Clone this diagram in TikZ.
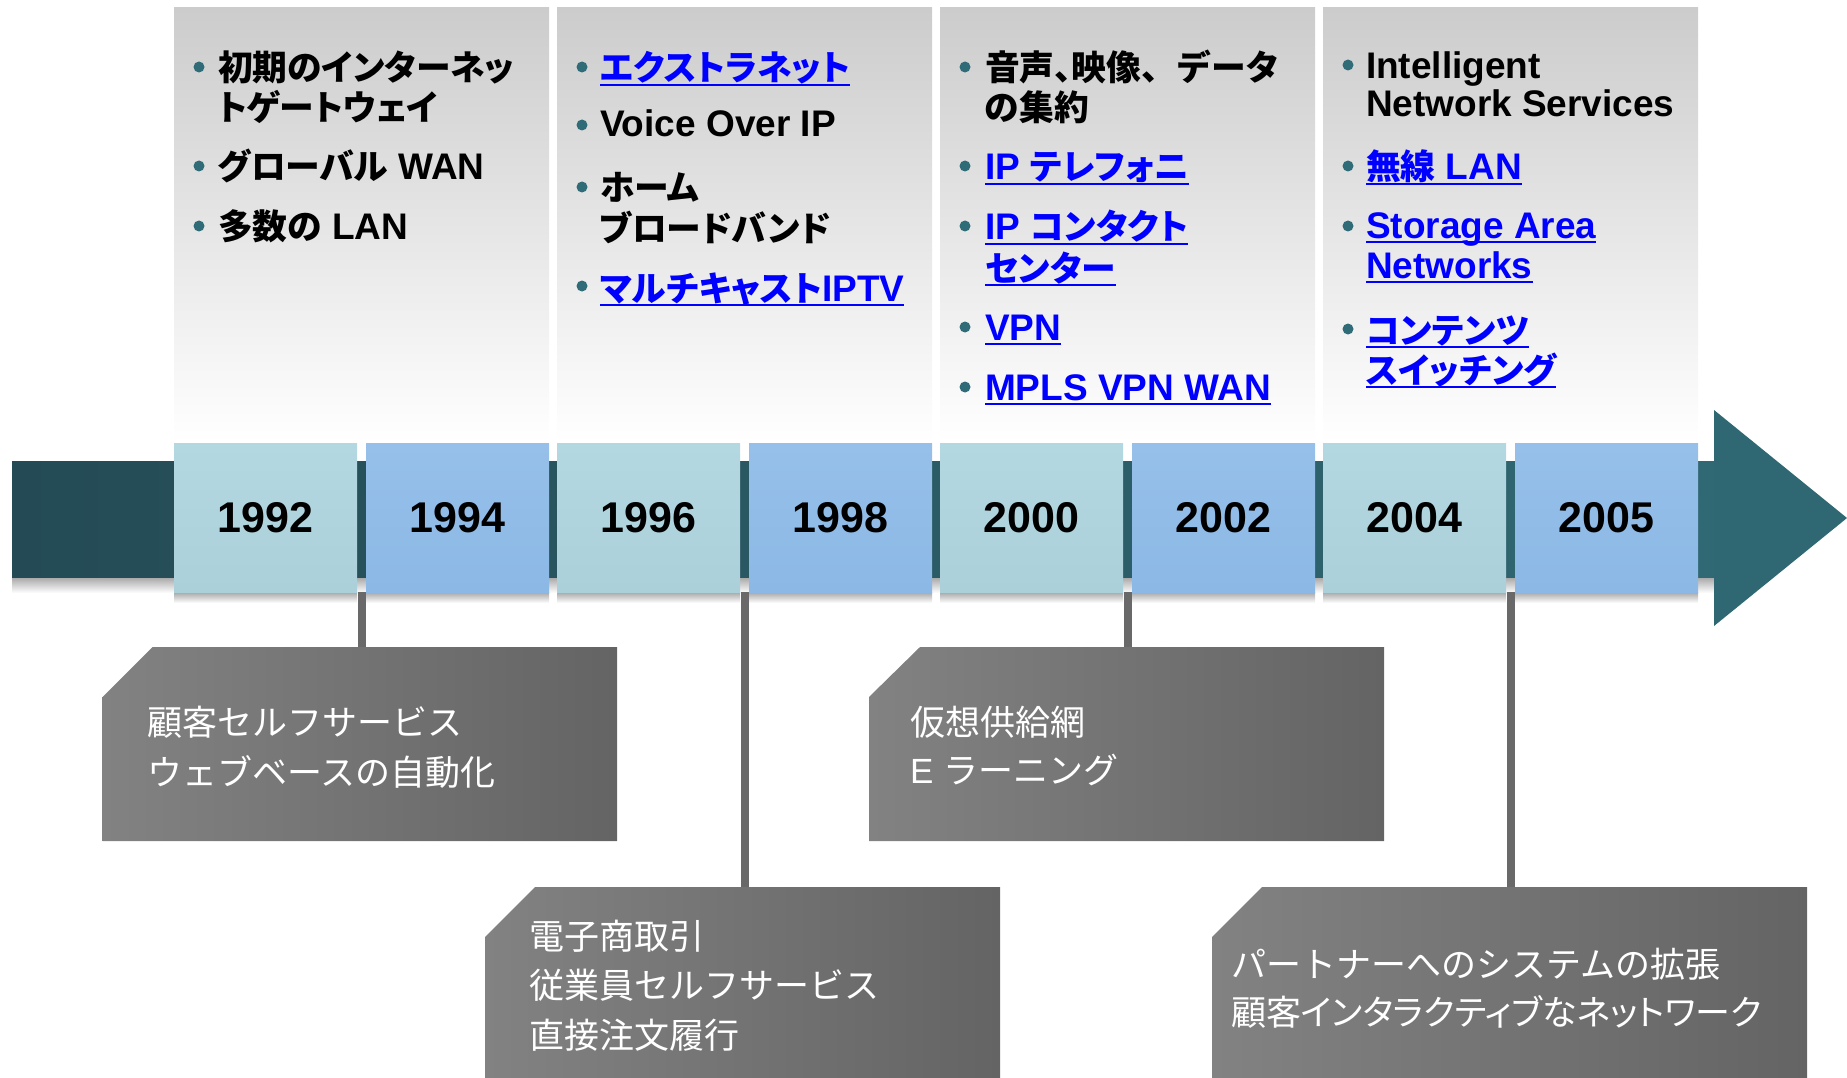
\documentclass[tikz,border=0pt]{standalone}
\usepackage{fontspec}
\setmainfont{Liberation Sans}
\newfontfamily\jpp[RawFeature=+palt]{Noto Sans CJK JP}
\newfontfamily\jp{Noto Sans CJK JP}
\newfontfamily\jpt[RawFeature=+palt,Scale=0.94]{Noto Sans CJK JP}
\newfontfamily\jpn[Scale=0.94]{Noto Sans CJK JP}
\usetikzlibrary{calc}
\definecolor{barL}{RGB}{36,75,85}
\definecolor{barR}{RGB}{48,104,115}
\definecolor{headC}{RGB}{47,103,114}
\definecolor{cyanT}{RGB}{180,216,225}
\definecolor{cyanB}{RGB}{172,208,218}
\definecolor{blueT}{RGB}{150,192,233}
\definecolor{blueB}{RGB}{140,184,230}
\definecolor{panT}{RGB}{204,204,204}
\definecolor{boxL}{RGB}{130,130,130}
\definecolor{boxR}{RGB}{100,100,100}
\definecolor{connC}{RGB}{105,105,105}
\definecolor{dotC}{RGB}{48,108,120}
\definecolor{linkC}{RGB}{0,0,255}
\newcommand\toptxt{\fontsize{37}{40}\selectfont\bfseries}
\newcommand\yrtxt{\fontsize{43}{46}\selectfont\bfseries}
\newcommand\bottxt{\fontsize{35}{38}\selectfont}
\tikzset{
  panel/.style={inner sep=0, outer sep=0, minimum width=375pt, minimum height=435pt, top color=panT, bottom color=white},
  yrA/.style={inner sep=0, outer sep=0, minimum width=183pt, minimum height=149pt, top color=cyanT, bottom color=cyanB, font=\yrtxt},
  yrB/.style={inner sep=0, outer sep=0, minimum width=183pt, minimum height=149pt, top color=blueT, bottom color=blueB, font=\yrtxt},
  ysh/.style={top color=black!35, bottom color=white},
  tx/.style={anchor=base west, inner sep=0, outer sep=0, font=\toptxt, text=black},
  lk/.style={tx, text=linkC},
  ul/.style={draw=linkC, line width=2.5pt},
  dot/.style={circle, fill=dotC, inner sep=0, minimum size=11pt},
  conn/.style={draw=connC, line width=8pt},
  bx/.style={left color=boxL, right color=boxR},
  bt/.style={anchor=base west, inner sep=0, outer sep=0, font=\bottxt, text=white}
}
\begin{document}
\begin{tikzpicture}[x=1pt,y=-1pt]
\useasboundingbox (0,0) rectangle (1847,1078);
% top panels
\node[panel] (p1) at (361.5,225.5) {};
\node[panel] (p2) at (744.5,225.5) {};
\node[panel] (p3) at (1127.5,225.5) {};
\node[panel] (p4) at (1510.5,225.5) {};
% bar and shadow
\shade[ysh] (12,577) rectangle (1714,593);
\shade[left color=barL, right color=barR] (12,461) rectangle (1714,577);
\fill[headC] (1714,410) -- (1847,518) -- (1714,626) -- cycle;
% year box shadows
\foreach \x in {174,366,557,749,940,1132,1323,1515}{
  \shade[ysh] (\x,592) rectangle ++(183,11);
}
% year boxes
\node[yrA] (y92) at (265.5,517.5) {1992};
\node[yrB] (y94) at (457.5,517.5) {1994};
\node[yrA] (y96) at (648.5,517.5) {1996};
\node[yrB] (y98) at (840.5,517.5) {1998};
\node[yrA] (y00) at (1031.5,517.5) {2000};
\node[yrB] (y02) at (1223.5,517.5) {2002};
\node[yrA] (y04) at (1414.5,517.5) {2004};
\node[yrB] (y05) at (1606.5,517.5) {2005};
% bottom box tops
\coordinate (tA) at (361.5,647);
\coordinate (tB) at (744.5,887);
\coordinate (tC) at (1127.5,647);
\coordinate (tD) at (1510.5,887);
% connectors
\draw[conn] ($(y92.south east)!.5!(y94.south west)$) -- (tA);
\draw[conn] ($(y96.south east)!.5!(y98.south west)$) -- (tB);
\draw[conn] ($(y00.south east)!.5!(y02.south west)$) -- (tC);
\draw[conn] ($(y04.south east)!.5!(y05.south west)$) -- (tD);
% bottom boxes
\shade[bx] (102.5,697) -- (152.5,647) -- (617,647) -- (617,841) -- (102.5,841) -- cycle;
\shade[bx] (485,937) -- (535,887) -- (1000,887) -- (1000,1078) -- (485,1078) -- cycle;
\shade[bx] (869,697) -- (920,647) -- (1384,647) -- (1384,841) -- (869,841) -- cycle;
\shade[bx] (1212,937) -- (1262,887) -- (1807,887) -- (1807,1078) -- (1212,1078) -- cycle;
\node[bt] (bA1) at (147,735) {\jp 顧客セルフサービス};
\node[bt] (bA2) at (147,785) {\jp ウェブベースの自動化};
\node[bt] (bB1) at (529,949) {\jp 電子商取引};
\node[bt] (bB2) at (529,998) {\jp 従業員セルフサービス};
\node[bt] (bB3) at (529,1048) {\jp 直接注文履行};
\node[bt] (bC1) at (910,735) {\jp 仮想供給網};
\node[bt] (bC2) at (910,783) {E {\jp ラーニング}};
\node[bt] (bD1) at (1231,977) {\jp パートナーへのシステムの拡張};
\node[bt] (bD2) at (1231,1025) {\jpp 顧客インタラクティブなネットワーク};
% panel 1
\node[dot] (d11) at (199,67) {};
\node[dot] (d12) at (199,166) {};
\node[dot] (d13) at (199,226) {};
\node[tx] (t11) at (218,81) {\jpt 初期のインターネッ};
\node[tx] (t12) at (218,121) {\jpt トゲートウェイ};
\node[tx] (t13) at (218,180) {{\jpt グローバル} WAN};
\node[tx] (t14) at (218,240) {{\jpt 多数の} LAN};
% panel 2
\node[dot] (d21) at (582,67) {};
\node[dot] (d22) at (582,125) {};
\node[dot] (d23) at (582,187) {};
\node[dot] (d24) at (582,286) {};
\node[lk] (t21) at (600,81) {\jpt エクストラネット};
\node[tx] (t22) at (600,137) {Voice Over IP};
\node[tx] (t23) at (600,201) {\jpt ホーム};
\node[tx] (t24) at (600,241) {\jpt ブロードバンド};
\node[lk] (t25) at (600,301) {{\jpt マルチキャスト}IPTV};
% panel 3
\node[dot] (d31) at (965,67) {};
\node[dot] (d32) at (965,166) {};
\node[dot] (d33) at (965,226) {};
\node[dot] (d34) at (965,327) {};
\node[dot] (d35) at (965,387) {};
\node[tx] (t31) at (985,81) {\jpn 音声{\jpt 、}映像、データ};
\node[tx] (t32) at (985,121) {\jpt の集約};
\node[lk] (t33) at (985,180) {IP {\jpt テレフォニ}};
\node[lk] (t34) at (985,240) {IP {\jpt コンタクト}};
\node[lk] (t35) at (985,281) {\jpt センター};
\node[lk] (t36) at (985,340) {VPN};
\node[lk] (t37) at (985,400) {MPLS VPN WAN};
% panel 4
\node[dot] (d41) at (1348,65) {};
\node[dot] (d42) at (1348,166) {};
\node[dot] (d43) at (1348,226) {};
\node[dot] (d44) at (1348,329) {};
\node[tx] (t41) at (1366,79) {Intelligent};
\node[tx] (t42) at (1366,117) {Network Services};
\node[lk] (t43) at (1366,180) {{\jpt 無線} LAN};
\node[lk] (t44) at (1366,238) {Storage Area};
\node[lk] (t45) at (1366,278) {Networks};
\node[lk] (t46) at (1366,343) {\jpt コンテンツ};
\node[lk] (t47) at (1366,383) {\jpt スイッチング};
% underlines
\foreach \n in {t21,t25,t33,t34,t35,t36,t37,t43,t44,t45,t46,t47}{
  \draw[ul] ([yshift=-4pt]\n.base west) -- ([yshift=-4pt]\n.base east);
}
\end{tikzpicture}
\end{document}
